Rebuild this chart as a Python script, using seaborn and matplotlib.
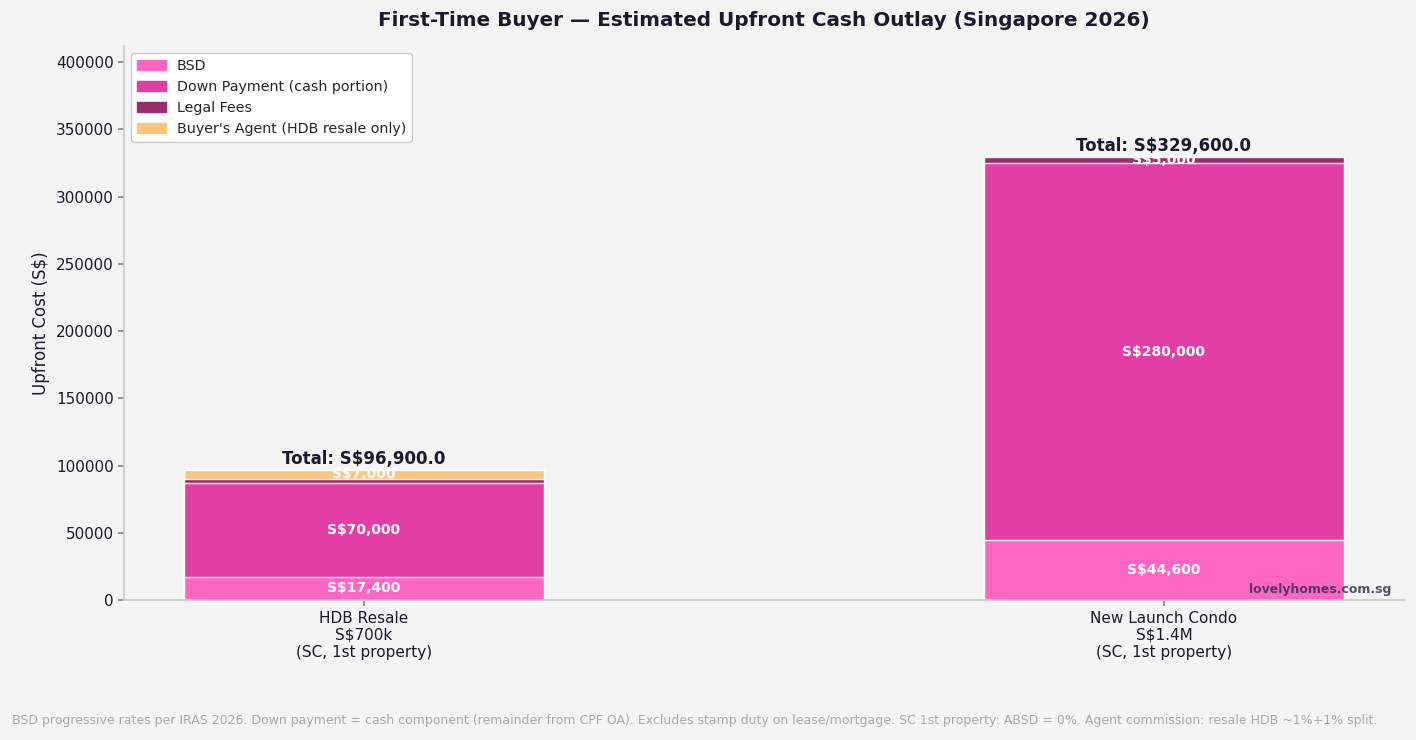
import matplotlib
matplotlib.use("Agg")
import matplotlib.pyplot as plt
import matplotlib.patches as mpatches
import seaborn as sns
import pandas as pd
import numpy as np

categories = ["HDB Resale\nS$700k\n(SC, 1st property)", "New Launch Condo\nS$1.4M\n(SC, 1st property)"]
layers = ["BSD", "Down Payment (cash portion)", "Legal Fees", "Buyer's Agent (HDB resale only)"]
bsd = [17400, 44600]
down_payment = [70000, 280000]
legal_fees = [2500, 5000]
agent = [7000, 0]
colors = ["#FF66C4", "#E33EA5", "#9B2C6E", "#FDC57A"]

values = [bsd, down_payment, legal_fees, agent]

sns.set_theme(style="white")
plt.rcParams["font.family"] = ["DejaVu Sans"]
BG = "#F4F4F4"
DARK = "#1A1A2E"

fig, ax = plt.subplots(figsize=(14.16, 7.4), dpi=100)
fig.patch.set_facecolor(BG)
ax.set_facecolor(BG)

cum = np.cumsum(np.array(values, dtype=float), axis=0)
for i in range(len(layers) - 1, -1, -1):
    d = pd.DataFrame({"cat": categories, "val": cum[i]})
    sns.barplot(data=d, x="cat", y="val", color=colors[i], width=0.45,
                edgecolor="white", linewidth=1, ax=ax, saturation=1)

for j in range(len(categories)):
    base = 0
    for i in range(len(layers)):
        v = values[i][j]
        if v > 3000:
            ax.text(j, base + v / 2, f"S${v:,.0f}", ha="center", va="center",
                    color="white", fontweight="bold", fontsize=10)
        base += v
    ax.text(j, base + 1200, f"Total: S${float(base):,.1f}", ha="center", va="bottom",
            color=DARK, fontweight="bold", fontsize=12)

ax.set_xlim(-0.3, 1.3)
ax.set_ylim(0, cum[-1].max() * 1.25)
ax.set_xlabel("")
ax.set_ylabel("Upfront Cost (S$)", fontsize=12, color=DARK)
ax.tick_params(axis="both", labelsize=11, labelcolor=DARK, color="#888888", length=4, left=True, bottom=True)
ax.ticklabel_format(axis="y", style="plain")
for s in ["top", "right"]:
    ax.spines[s].set_visible(False)
for s in ["left", "bottom"]:
    ax.spines[s].set_color("#CCCCCC")
ax.set_title("First-Time Buyer — Estimated Upfront Cash Outlay (Singapore 2026)",
             fontsize=14.4, fontweight="bold", color=DARK, pad=14)

handles = [mpatches.Patch(color=c, label=l) for c, l in zip(colors, layers)]
leg = ax.legend(handles=handles, loc="upper left", fontsize=10.3, frameon=True,
                facecolor="white", edgecolor="#CCCCCC", framealpha=1)

ax.text(0.99, 0.008, "lovelyhomes.com.sg", transform=ax.transAxes, ha="right", va="bottom",
        fontsize=9, fontweight="bold", color="#333355", alpha=0.85)

fig.text(0.0085, 0.026, "BSD progressive rates per IRAS 2026. Down payment = cash component (remainder from CPF OA). "
         "Excludes stamp duty on lease/mortgage. SC 1st property: ABSD = 0%. Agent commission: resale HDB ~1%+1% split.",
         fontsize=9, color="#AAAAAA", ha="left", va="center")

fig.subplots_adjust(left=0.0876, right=0.9915, top=0.938, bottom=0.189)
fig.savefig("out.png", dpi=100, facecolor=BG)
